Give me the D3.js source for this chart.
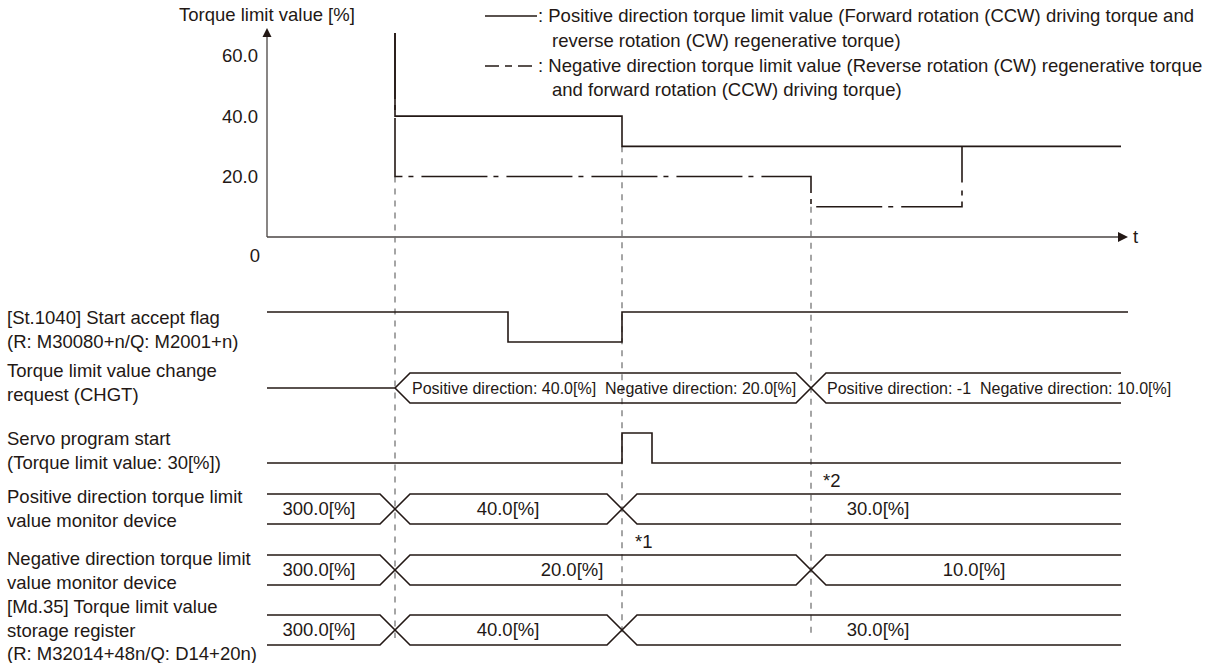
<html>
<head>
    <style>
        body {
            margin: 0;
            background: #ffffff;
            font-family: "Liberation Sans", Arial, Helvetica, sans-serif;
        }
        svg { display: block; }
        text { white-space: pre; }
    </style>
    <script src="https://cdn.jsdelivr.net/npm/d3@7/dist/d3.min.js"></script>
</head>
<body>
<svg id="Diagrama"></svg>
<script>
    // ---- datos (tiempo en unidades arbitrarias, par en %)
    const torqueTicks = [20, 40, 60];
    const torqueTickLabels = ["20.0", "40.0", "60.0"];

    // limite positivo (linea continua): 300 % queda fuera del eje
    const positiveLimit = [
        { t: 128, v: 300 }, { t: 128, v: 40 }, { t: 355, v: 30 }, { t: 854, v: 30 }
    ];
    // limite negativo (linea de trazo y punto)
    const negativeLimit = [
        { t: 128, v: 300 }, { t: 128, v: 20 }, { t: 544, v: 10 }, { t: 695, v: 30 }, { t: 695, v: 30 }
    ];
    // instantes de cambio (lineas verticales discontinuas) y valor donde empiezan
    const changeMarks = [
        { t: 128, v: 20 }, { t: 355, v: 30 }, { t: 544, v: 10 }
    ];

    const startAcceptFlag = [[0, 1], [241, 0], [355, 1], [861, 1]];
    const servoStart = [[0, 0], [355, 1], [385, 0], [854, 0]];

    const chgtSegments = [
        { from: 0, to: 128, idle: true },
        { from: 128, to: 544, at: 145, text: "Positive direction: 40.0[%]  Negative direction: 20.0[%]" },
        { from: 544, to: 854, at: 560, text: "Positive direction: -1  Negative direction: 10.0[%]" }
    ];
    const positiveMonitor = [
        { from: 0, to: 128, at: 52, text: "300.0[%]" },
        { from: 128, to: 355, at: 241, text: "40.0[%]" },
        { from: 355, to: 854, at: 611, text: "30.0[%]" }
    ];
    const negativeMonitor = [
        { from: 0, to: 128, at: 52, text: "300.0[%]" },
        { from: 128, to: 544, at: 305, text: "20.0[%]" },
        { from: 544, to: 854, at: 707, text: "10.0[%]" }
    ];
    const md35Register = [
        { from: 0, to: 128, at: 52, text: "300.0[%]" },
        { from: 128, to: 355, at: 241, text: "40.0[%]" },
        { from: 355, to: 854, at: 611, text: "30.0[%]" }
    ];

    const rowLabels = [
        ["[St.1040] Start accept flag", "(R: M30080+n/Q: M2001+n)"],
        ["Torque limit value change", "request (CHGT)"],
        ["Servo program start", "(Torque limit value: 30[%])"],
        ["Positive direction torque limit", "value monitor device"],
        ["Negative direction torque limit", "value monitor device"],
        ["[Md.35] Torque limit value", "storage register", "(R: M32014+48n/Q: D14+20n)"]
    ];
    const legendLines = [
        ": Positive direction torque limit value (Forward rotation (CCW) driving torque and",
        "reverse rotation (CW) regenerative torque)",
        ": Negative direction torque limit value (Reverse rotation (CW) regenerative torque",
        "and forward rotation (CCW) driving torque)"
    ];
    const notes = [{ t: 368, y: 542, text: "*1" }, { t: 556, y: 481, text: "*2" }];

    // ---- configuracion
    const ancho = 1217, alto = 663;
    const tinta = "#231815", ejeColor = "#4a4443", guiaColor = "#6a6a6a";
    const fuente = 18.5;
    const svg = d3.select("#Diagrama").attr("width", ancho).attr("height", alto);

    const x = d3.scaleLinear().domain([0, 861]).range([267, 1128]);
    const y = d3.scaleLinear().domain([0, 67.5]).range([237, 33]).clamp(true);

    // ---- ejes
    svg.append("line").attr("x1", x(0)).attr("x2", x(0)).attr("y1", y(0)).attr("y2", 36)
        .attr("stroke", ejeColor).attr("stroke-width", 1.3);
    svg.append("path").attr("d", `M${x(0)},28 L${x(0) - 4.5},37 L${x(0) + 4.5},37 Z`).attr("fill", tinta);
    svg.append("line").attr("x1", x(0)).attr("x2", 1119).attr("y1", y(0)).attr("y2", y(0))
        .attr("stroke", ejeColor).attr("stroke-width", 1.3);
    svg.append("path").attr("d", `M1128,${y(0)} L1118,${y(0) - 5} L1118,${y(0) + 5} Z`).attr("fill", tinta);

    const texto = (px, py, s, anchor) => svg.append("text")
        .attr("x", px).attr("y", py).attr("dy", "0.35em")
        .attr("text-anchor", anchor || "start")
        .attr("font-size", fuente).attr("fill", tinta).text(s);

    texto(179, 15, "Torque limit value [%]");
    torqueTicks.forEach((v, i) => texto(258, y(v), torqueTickLabels[i], "end"));
    texto(260, 256, "0", "end");
    texto(1133, y(0), "t");

    // ---- leyenda
    svg.append("line").attr("x1", 485).attr("x2", 537).attr("y1", 16).attr("y2", 16)
        .attr("stroke", tinta).attr("stroke-width", 1.5);
    svg.append("line").attr("x1", 485).attr("x2", 537).attr("y1", 66).attr("y2", 66)
        .attr("stroke", tinta).attr("stroke-width", 1.5).attr("stroke-dasharray", "14,6,7,6");
    texto(538, 16, legendLines[0]);
    texto(552, 41, legendLines[1]);
    texto(538, 66, legendLines[2]);
    texto(552, 90, legendLines[3]);

    // ---- lineas de cambio
    changeMarks.forEach(m => {
        svg.append("line").attr("x1", x(m.t)).attr("x2", x(m.t))
            .attr("y1", y(m.v)).attr("y2", 638)
            .attr("stroke", guiaColor).attr("stroke-width", 1.2).attr("stroke-dasharray", "6,6");
    });

    // ---- limites de par
    const linea = d3.line().x(d => x(d.t)).y(d => y(d.v)).curve(d3.curveStepAfter);
    svg.append("path").datum(positiveLimit).attr("d", linea)
        .attr("fill", "none").attr("stroke", tinta).attr("stroke-width", 1.6);
    svg.append("path").datum(negativeLimit).attr("d", linea)
        .attr("fill", "none").attr("stroke", tinta).attr("stroke-width", 1.6)
        .attr("stroke-dasharray", "66,6,5,8");

    // ---- senales de tiempo
    function dibujarNivel(datos, alto1, bajo0) {
        const yl = d3.scaleLinear().domain([0, 1]).range([bajo0, alto1]);
        const l = d3.line().x(d => x(d[0])).y(d => yl(d[1])).curve(d3.curveStepAfter);
        svg.append("path").datum(datos).attr("d", l)
            .attr("fill", "none").attr("stroke", tinta).attr("stroke-width", 1.6);
    }

    function dibujarBus(segmentos, medio, anchorTexto) {
        const h = 15, s = 15;
        const l = d3.line();
        segmentos.forEach((seg, i) => {
            const xa = x(seg.from), xb = x(seg.to);
            if (seg.idle) {
                svg.append("path").attr("d", l([[xa, medio], [xb, medio]]))
                    .attr("fill", "none").attr("stroke", tinta).attr("stroke-width", 1.6);
                return;
            }
            const abiertoIzq = seg.from === 0;
            const abiertoDer = i === segmentos.length - 1;
            [medio - h, medio + h].forEach(yy => {
                const pts = [];
                if (!abiertoIzq) pts.push([xa, medio]);
                pts.push([abiertoIzq ? xa : xa + s, yy]);
                pts.push([abiertoDer ? xb : xb - s, yy]);
                if (!abiertoDer) pts.push([xb, medio]);
                svg.append("path").attr("d", l(pts))
                    .attr("fill", "none").attr("stroke", tinta).attr("stroke-width", 1.6);
            });
            const tx = texto(x(seg.at), medio, seg.text, anchorTexto);
            if (anchorTexto === "start") tx.attr("font-size", 16);
        });
    }

    dibujarNivel(startAcceptFlag, 312, 342);
    dibujarBus(chgtSegments, 388, "start");
    dibujarNivel(servoStart, 433, 463);
    dibujarBus(positiveMonitor, 509, "middle");
    dibujarBus(negativeMonitor, 570, "middle");
    dibujarBus(md35Register, 630, "middle");

    notes.forEach(n => texto(x(n.t), n.y, n.text));

    // ---- etiquetas de las filas
    const primeraLinea = [318, 371, 439, 497, 559, 607];
    rowLabels.forEach((lineas, i) => {
        lineas.forEach((s, j) => texto(7, primeraLinea[i] + j * 23.5, s));
    });
</script>
</body>
</html>
